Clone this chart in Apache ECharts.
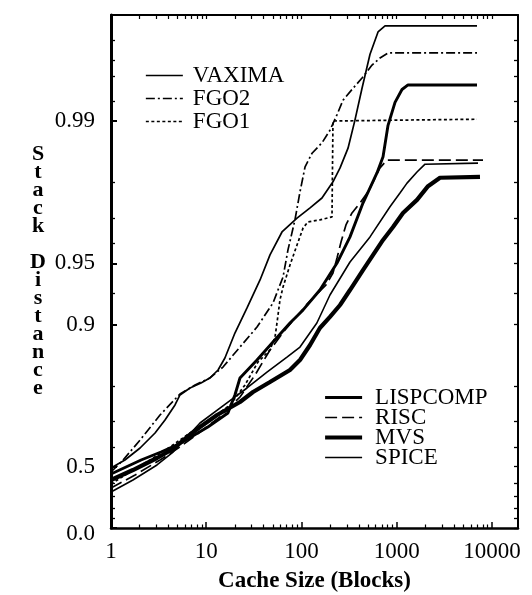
<!DOCTYPE html>
<html><head><meta charset="utf-8">
<script src="https://cdn.jsdelivr.net/npm/echarts@6/dist/echarts.min.js"></script>
<style>html,body{margin:0;padding:0;background:#fff}#c{width:532px;height:595px}</style>
</head><body><div id="c"></div>
<script>
// ---- tick labels ----
const xTickValues = [1, 10, 100, 1000, 10000];
const xTickLabels = ['1', '10', '100', '1000', '10000'];
const yTickValues = [0, 0.5, 0.9, 0.95, 0.99];
const yTickLabels = ['0.0', '0.5', '0.9', '0.95', '0.99'];
const yMinorTickValues = [0.1, 0.2, 0.3, 0.4, 0.6, 0.7, 0.8, 0.93, 0.96, 0.97, 0.98, 0.992, 0.994, 0.995, 0.996];

// ---- series: [cache size (blocks), cumulative stack distance probability] ----
const VAXIMA = [[1,0.4929],[1.40,0.5367],[2.02,0.5955],[2.90,0.6587],[3.69,0.7055],[4.70,0.7514],[5.30,0.7780],[6.75,0.7949],[8.81,0.8061],[10.9,0.8168],[13.3,0.8327],[15.7,0.8539],[20.0,0.8899],[26.8,0.9171],[36.7,0.9396],[46.7,0.9545],[62.4,0.9649],[89.7,0.9700],[123,0.9733],[164,0.9761],[214,0.9801],[254,0.9830],[308,0.9864],[364,0.9901],[432,0.9931],[524,0.9953],[636,0.99635],[753,0.99659],[6960,0.99659]];
const FGO2 = [[1,0.4694],[1.34,0.5367],[2.02,0.6305],[3.27,0.7216],[5.30,0.7805],[7.62,0.8017],[10.9,0.8168],[15.0,0.8382],[22.6,0.8710],[34.1,0.8971],[50.2,0.9216],[64.0,0.9416],[72.1,0.9570],[85.4,0.9694],[96.4,0.9777],[109,0.9832],[129,0.9856],[164,0.9872],[199,0.9889],[236,0.9907],[273,0.9921],[339,0.9930],[432,0.99385],[550,0.99469],[667,0.99510],[810,0.99537],[6960,0.99537]];
const FGO1 = [[1,0.3922],[1.58,0.4694],[2.57,0.5367],[4.16,0.6001],[6.75,0.6587],[10.9,0.7055],[17.8,0.7514],[25.5,0.8017],[34.9,0.8471],[46.7,0.8666],[52.7,0.8848],[55.3,0.9017],[59.4,0.9242],[64.0,0.9346],[75.7,0.9490],[89.7,0.9593],[104,0.9665],[117,0.9687],[156,0.9694],[209,0.9704],[214,0.9900],[1081,0.9901],[6960,0.9902]];
const LISPCOMP = [[1,0.4572],[2.07,0.5367],[3.35,0.5768],[5.43,0.6178],[6.92,0.6429],[10.4,0.6811],[16.9,0.7279],[20.0,0.7780],[22.6,0.8168],[34.1,0.8506],[50.2,0.8781],[75.7,0.9017],[104,0.9152],[156,0.9323],[236,0.9501],[323,0.9629],[442,0.9747],[620,0.9820],[718,0.9850],[810,0.9895],[959,0.9919],[1135,0.9930],[1313,0.99335],[6960,0.99335]];
const RISC = [[1,0.3642],[1.79,0.4510],[3.27,0.5367],[5.30,0.6001],[8.60,0.6625],[13.9,0.7153],[22.6,0.7729],[32.5,0.8229],[46.7,0.8666],[67.1,0.8936],[89.7,0.9092],[117,0.9216],[149,0.9300],[181,0.9361],[214,0.9442],[236,0.9529],[260,0.9607],[293,0.9676],[339,0.9717],[411,0.9747],[499,0.9777],[577,0.9805],[667,0.9830],[790,0.98445],[8050,0.98445]];
const MVS = [[1,0.4193],[1.70,0.4812],[3.04,0.5471],[4.48,0.5909],[6.28,0.6429],[8.60,0.6811],[13.0,0.7216],[22.6,0.7597],[31.0,0.7854],[46.7,0.8083],[75.7,0.8327],[96.4,0.8506],[123,0.8739],[156,0.8960],[199,0.9082],[254,0.9198],[323,0.9323],[442,0.9460],[718,0.9616],[914,0.9668],[1163,0.9717],[1632,0.9756],[2130,0.9791],[2845,0.9810],[7480,0.9812]];
const SPICE = [[1,0.3349],[1.70,0.4193],[3.04,0.5098],[4.48,0.5768],[6.28,0.6429],[8.60,0.6952],[16.5,0.7570],[26.8,0.7949],[43.4,0.8288],[70.4,0.8555],[96.4,0.8710],[145,0.9017],[199,0.9284],[323,0.9507],[524,0.9629],[849,0.9736],[1081,0.9774],[1282,0.9798],[1632,0.9822],[1982,0.9837],[7130,0.9839]];

// ---- axis transforms (log cache size, -log10(1-p) probability scale) ----
const fx = v => Math.log10(v);
const fy = p => -Math.log10(1 - p);
const XMAX = 4.273;
const YMAX = 2.521;
const FONT = '"Liberation Serif", "DejaVu Serif", serif';

const xMinor = [];
for (let d = 0; d <= 4; d++) for (let k = 2; k <= 9; k++) { const v = k * Math.pow(10, d); if (fx(v) < XMAX) xMinor.push(fx(v)); }
const xMajor = xTickValues.map(fx);
const yMajor = yTickValues.map(fy);
const yMinor = yMinorTickValues.map(fy);

function xFmt(val) {
  const i = xMajor.findIndex(t => Math.abs(t - val) < 1e-6);
  return i >= 0 ? xTickLabels[i] : '';
}
function yFmt(val) {
  const i = yMajor.findIndex(t => Math.abs(t - val) < 1e-6);
  if (i < 0) return '';
  return i === 0 ? '{z|' + yTickLabels[0] + '}' : yTickLabels[i];
}

const black = '#000';
const baseX = {
  type: 'value', min: 0, max: XMAX, gridIndex: 0,
  splitLine: { show: false },
  axisLine: { show: false, onZero: false },
  axisLabel: { show: false },
  axisTick: { show: false }
};
const baseY = {
  type: 'value', min: 0, max: YMAX, gridIndex: 0,
  splitLine: { show: false },
  axisLine: { show: false, onZero: false },
  axisLabel: { show: false },
  axisTick: { show: false }
};

const styles = {
  VAXIMA:   { width: 1.7, type: 'solid' },
  FGO2:     { width: 1.7, type: [9, 3, 2, 3] },
  FGO1:     { width: 1.7, type: [3, 2.5] },
  LISPCOMP: { width: 2.9, type: 'solid' },
  RISC:     { width: 1.7, type: [12, 5] },
  MVS:      { width: 4.2, type: 'solid' },
  SPICE:    { width: 1.6, type: 'solid' }
};
const seriesData = { VAXIMA, FGO2, FGO1, LISPCOMP, RISC, MVS, SPICE };

const series = Object.keys(seriesData).map(name => ({
  name, type: 'line', xAxisIndex: 0, yAxisIndex: 0,
  symbol: 'none', smooth: false, animation: false,
  lineStyle: { color: black, width: styles[name].width, type: styles[name].type },
  itemStyle: { color: black },
  data: seriesData[name].map(d => [fx(d[0]), fy(d[1])])
}));

const legendItem = n => ({
  name: n,
  itemStyle: { opacity: 0, color: 'rgba(0,0,0,0)', borderWidth: 0 },
  lineStyle: { color: black, width: styles[n].width, type: styles[n].type, opacity: 1 }
});

const option = {
  backgroundColor: '#fff',
  animation: false,
  textStyle: { fontFamily: FONT, color: black },
  grid: { left: 111, right: 14, top: 15, bottom: 67, containLabel: false, outerBoundsMode: 'none' },
  legend: [
    {
      orient: 'vertical', left: 145, top: 64, padding: 0, itemGap: 0,
      itemWidth: 37, itemHeight: 12, selectedMode: false,
      textStyle: { fontFamily: FONT, fontSize: 23, color: black, lineHeight: 21, padding: [0, 0, 0, 5] },
      data: ['VAXIMA', 'FGO2', 'FGO1'].map(legendItem)
    },
    {
      orient: 'vertical', left: 323, top: 386, padding: 0, itemGap: -3,
      itemWidth: 37, itemHeight: 12, selectedMode: false,
      textStyle: { fontFamily: FONT, fontSize: 23, color: black, lineHeight: 19, padding: [0, 0, 0, 8] },
      data: ['LISPCOMP', 'RISC', 'MVS', 'SPICE'].map(legendItem)
    }
  ],
  xAxis: [
    Object.assign({}, baseX, {
      position: 'bottom',
      axisLine: { show: true, onZero: false, lineStyle: { color: black, width: 2.5 } },
      axisTick: { show: true, inside: true, length: 6, customValues: xMajor, lineStyle: { color: black, width: 1.5 } },
      axisLabel: { show: true, customValues: xMajor, formatter: xFmt, fontFamily: FONT, fontSize: 23, color: black, margin: 12 },
      name: 'Cache Size (Blocks)', nameLocation: 'middle', nameGap: 42,
      nameTextStyle: { fontFamily: FONT, fontSize: 23, fontWeight: 'bold', color: black }
    }),
    Object.assign({}, baseX, {
      position: 'bottom',
      axisTick: { show: true, inside: true, length: 3.5, customValues: xMinor, lineStyle: { color: black, width: 1.2 } }
    }),
    Object.assign({}, baseX, {
      position: 'top',
      axisLine: { show: true, onZero: false, lineStyle: { color: black, width: 2 } },
      axisTick: { show: true, inside: true, length: 4, customValues: xMajor.concat(xMinor), lineStyle: { color: black, width: 1.2 } }
    })
  ],
  yAxis: [
    Object.assign({}, baseY, {
      position: 'left',
      axisLine: { show: true, onZero: false, lineStyle: { color: black, width: 3 } },
      axisTick: { show: true, inside: true, length: 6, customValues: yMajor, lineStyle: { color: black, width: 2 } },
      axisLabel: {
        show: true, customValues: yMajor, formatter: yFmt, fontFamily: FONT, fontSize: 23, color: black, margin: 16,
        rich: { z: { fontFamily: FONT, fontSize: 23, color: black, padding: [12, 0, 0, 0] } }
      },
      name: 'S\nt\na\nc\nk\n\nD\ni\ns\nt\na\nn\nc\ne', nameLocation: 'middle', nameRotate: 0, nameGap: 73,
      nameTextStyle: { fontFamily: FONT, fontSize: 22, fontWeight: 'bold', color: black, lineHeight: 18,
        align: 'center', verticalAlign: 'middle', padding: [10, 0, 0, 0] }
    }),
    Object.assign({}, baseY, {
      position: 'left',
      axisTick: { show: true, inside: true, length: 4, customValues: yMinor, lineStyle: { color: black, width: 1.3 } }
    }),
    Object.assign({}, baseY, {
      position: 'right',
      axisLine: { show: true, onZero: false, lineStyle: { color: black, width: 2 } },
      axisTick: { show: true, inside: true, length: 4, customValues: yMajor.concat(yMinor), lineStyle: { color: black, width: 1.3 } }
    })
  ],
  series
};

const chart = echarts.init(document.getElementById('c'), null, { renderer: 'canvas' });
chart.setOption(option);
</script>
</body></html>
